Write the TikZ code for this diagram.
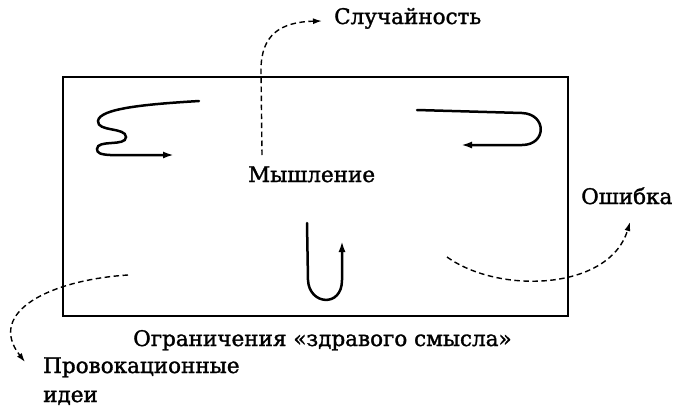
\documentclass[tikz,border=0pt]{standalone}
\usepackage{fontspec}
\setmainfont{DejaVu Serif}
\newfontfamily\lblfont{DejaVu Serif}[FakeBold=1.5]
\usetikzlibrary{arrows.meta}
\begin{document}
\begin{tikzpicture}[x=1pt,y=-1pt,
  lbl/.style={font=\lblfont\fontsize{21.5}{24}\selectfont, text=black, inner sep=0pt, anchor=base west},
  solidcurve/.style={line width=2.5pt, line cap=round, -{Latex[length=11pt,width=7pt]}},
  dashcurve/.style={line width=1.4pt, dash pattern=on 5.5pt off 3.5pt, -{Latex[length=9pt,width=6pt]}},
  frame/.style={draw, line width=2.2pt, inner sep=0pt, minimum width=505pt, minimum height=239pt}]
\useasboundingbox (0,0) rectangle (683,408);
\node[frame] (box) at (315.5,196.5) {};
% labels
\node[lbl] (sluch) at (334,24) {Случайность};
\node[lbl] (mysh) at (248,182) {Мышление};
\node[lbl] (osh) at (581,204) {Ошибка};
\node[lbl] (ogr) at (133,346) {Ограничения «здравого смысла»};
\node[lbl] (prov) at (43,373) {Провокационные};
\node[lbl] (idei) at (43,402) {идеи};
% free ends
\coordinate (s1) at (262,155);
\coordinate (s1a) at (261,70);
\coordinate (t1) at (322,21);
\coordinate (s2) at (447,257);
\coordinate (t2) at (630,222);
\coordinate (s3) at (128,275);
\coordinate (t3) at (25,362);
% dashed connectors
\draw[dashcurve] (s1) -- (s1a) .. controls (261,35) and (280,22) .. (t1);
\draw[dashcurve] (s2) .. controls (500,295) and (610,290) .. (t2);
\draw[dashcurve] (s3) .. controls (50,280) and (-14,312) .. (t3);
% solid squiggles
\coordinate (a1) at (199,101);
\coordinate (a2) at (174,155);
\draw[solidcurve] (a1) .. controls (150,104) and (99,108) .. (98,121)
  .. controls (97,132) and (126,127) .. (126,137)
  .. controls (126,147) and (97,139) .. (97,149)
  .. controls (97,157) and (110,155) .. (a2);
\coordinate (b1) at (417,110);
\coordinate (b2) at (461,145);
\draw[solidcurve] (b1) -- (522,113) .. controls (547,114) and (547,145) .. (522,145) -- (b2);
\coordinate (c1) at (307,223);
\coordinate (c2) at (342,241);
\draw[solidcurve] (c1) -- (308,280) .. controls (309,305) and (342,308) .. (342,280) -- (c2);
\end{tikzpicture}
\end{document}
